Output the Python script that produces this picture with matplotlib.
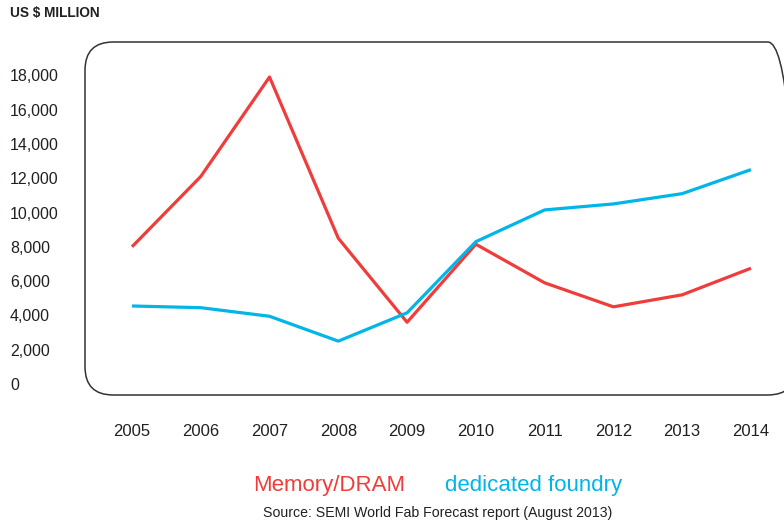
import matplotlib
matplotlib.use("Agg")
import matplotlib.pyplot as plt
from matplotlib.patches import FancyBboxPatch

years = [2005, 2006, 2007, 2008, 2009, 2010, 2011, 2012, 2013, 2014]
memory_dram = [8000, 12100, 17900, 8500, 3600, 8150, 5900, 4500, 5200, 6750]
dedicated_foundry = [4550, 4450, 3950, 2500, 4150, 8300, 10150, 10500, 11100, 12500]
y_ticks = [0, 2000, 4000, 6000, 8000, 10000, 12000, 14000, 16000, 18000]

RED = "#ee3d3a"
BLUE = "#00b5e8"
TEXT = "#231f20"

plt.rcParams["font.family"] = ["Liberation Sans", "DejaVu Sans"]

W, H = 784, 527
fig = plt.figure(figsize=(W / 100, H / 100), dpi=100)

# plot area in pixel coords (left, top, right, bottom); right side runs off the image
L, T, R, B = 85, 42, 796, 395
ax = fig.add_axes([L / W, 1 - B / H, (R - L) / W, (B - T) / H])
ax.set_facecolor("none")
for s in ax.spines.values():
    s.set_visible(False)

box = FancyBboxPatch((L / W, 1 - B / H), (R - L) / W, (B - T) / H,
                     boxstyle="round,pad=0,rounding_size=0.036",
                     transform=fig.transFigure, fill=False,
                     edgecolor="#333333", linewidth=1.1,
                     mutation_aspect=W / H)
fig.patches.append(box)

ax.plot(years, memory_dram, color=RED, lw=2.3, solid_capstyle="butt")
ax.plot(years, dedicated_foundry, color=BLUE, lw=2.3, solid_capstyle="butt")

ax.set_xlim(2004.317, 2014.655)
ax.set_ylim(-641, 19942)
ax.set_xticks(years)
ax.set_xticklabels([str(y) for y in years], fontsize=12, color=TEXT)
ax.set_yticks(y_ticks)
ax.set_yticklabels([f"{v:,}" for v in y_ticks], fontsize=11.5, color=TEXT, ha="left")
ax.tick_params(axis="y", length=0, pad=54)
ax.tick_params(axis="x", length=0, pad=21)

fig.text(10 / W, 1 - 13 / H, "US $ MILLION", fontsize=9.8, fontweight="bold",
         color=TEXT, va="center", ha="left")

fig.text(329 / W, 1 - 486 / H, "Memory/DRAM", fontsize=16, color=RED,
         ha="center", va="center")
fig.text(534 / W, 1 - 486 / H, "dedicated foundry", fontsize=16, color=BLUE,
         ha="center", va="center")
fig.text(438 / W, 1 - 513 / H, "Source: SEMI World Fab Forecast report (August 2013)",
         fontsize=10.2, color=TEXT, ha="center", va="center")

fig.savefig("out.png", dpi=100)
